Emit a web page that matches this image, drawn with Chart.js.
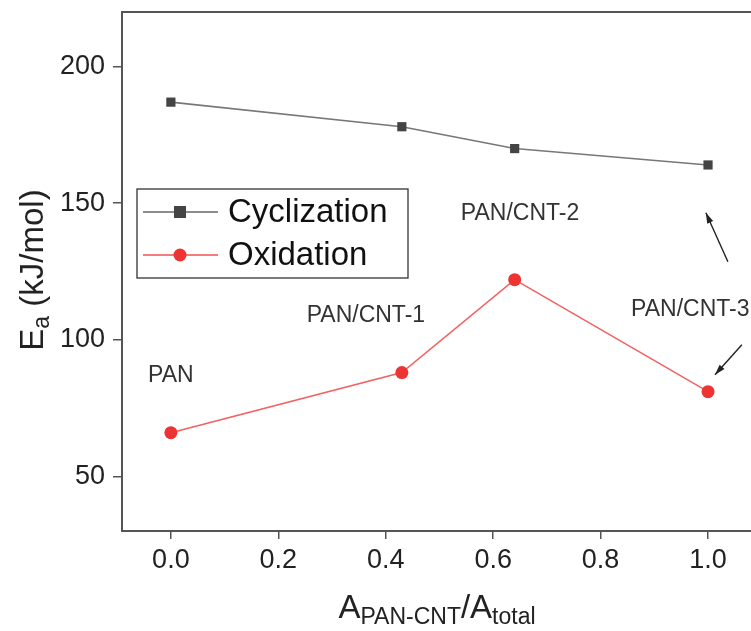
<!DOCTYPE html>
<html>
<head>
<meta charset="utf-8">
<script src="https://cdn.jsdelivr.net/npm/chart.js@4/dist/chart.umd.min.js"></script>
<style>
  html, body { margin: 0; padding: 0; background: #fff; overflow: hidden; }
  #wrap { width: 751px; height: 631px; }
</style>
</head>
<body>
<div id="wrap"><canvas id="eaChart" width="751" height="631"></canvas></div>
<script>
// activation energy vs. fraction of PAN-CNT area
var ratio = [0.0, 0.43, 0.64, 1.0];
var cyclization = [187, 178, 170, 164];
var oxidation = [66, 88, 122, 81];
var xTicks = [0.0, 0.2, 0.4, 0.6, 0.8, 1.0];
var yTicks = [50, 100, 150, 200];
var sampleNames = ['PAN', 'PAN/CNT-1', 'PAN/CNT-2', 'PAN/CNT-3'];
// label anchors in data units
var sampleLabelX = [0.0, 0.363, 0.65, 0.967];
var sampleLabelY = [87, 109, 146, 111];

var FONT = '"Liberation Sans", Arial, sans-serif';

function points(xs, ys) {
    return xs.map(function (x, i) { return { x: x, y: ys[i] }; });
}

function arrow(ctx, x1, y1, x2, y2) {
    var a = Math.atan2(y2 - y1, x2 - x1);
    ctx.beginPath();
    ctx.moveTo(x1, y1);
    ctx.lineTo(x2, y2);
    ctx.stroke();
    ctx.beginPath();
    ctx.moveTo(x2, y2);
    ctx.lineTo(x2 - 11 * Math.cos(a - 0.3), y2 - 11 * Math.sin(a - 0.3));
    ctx.lineTo(x2 - 11 * Math.cos(a + 0.3), y2 - 11 * Math.sin(a + 0.3));
    ctx.closePath();
    ctx.fill();
}

// text with a subscript part, returns total width
function subText(ctx, parts, x, y, size, subSize, measureOnly) {
    var w = 0;
    parts.forEach(function (p) {
        ctx.font = (p.sub ? subSize : size) + 'px ' + FONT;
        if (!measureOnly) ctx.fillText(p.t, x + w, y + (p.sub ? size * 0.17 : 0));
        w += ctx.measureText(p.t).width;
    });
    return w;
}

var extras = {
    id: 'extras',
    afterDraw: function (chart) {
        var ctx = chart.ctx;
        var area = chart.chartArea;
        var xs = chart.scales.x, ys = chart.scales.y;
        ctx.save();

        // top frame line
        ctx.strokeStyle = '#555';
        ctx.lineWidth = 2;
        ctx.beginPath();
        ctx.moveTo(area.left - 1, area.top);
        ctx.lineTo(area.right, area.top);
        ctx.stroke();

        // sample labels
        ctx.fillStyle = '#333';
        ctx.font = '23px ' + FONT;
        ctx.textAlign = 'center';
        ctx.textBaseline = 'middle';
        sampleNames.forEach(function (n, i) {
            ctx.fillText(n, xs.getPixelForValue(sampleLabelX[i]), ys.getPixelForValue(sampleLabelY[i]));
        });

        // arrows pointing at the PAN/CNT-3 points
        ctx.strokeStyle = '#222';
        ctx.fillStyle = '#222';
        ctx.lineWidth = 1.4;
        arrow(ctx, xs.getPixelForValue(1.037), ys.getPixelForValue(128.6),
                   xs.getPixelForValue(0.996), ys.getPixelForValue(146.5));
        arrow(ctx, xs.getPixelForValue(1.063), ys.getPixelForValue(98.2),
                   xs.getPixelForValue(1.013), ys.getPixelForValue(87.2));

        // legend box
        var lx = 137, ly = 189, lw = 271, lh = 89;
        ctx.strokeStyle = '#333';
        ctx.lineWidth = 1.3;
        ctx.strokeRect(lx, ly, lw, lh);
        var rows = [
            { label: 'Cyclization', color: '#666', fill: '#444', shape: 'rect', y: ly + 23 },
            { label: 'Oxidation', color: '#f05050', fill: '#ee3333', shape: 'circle', y: ly + 66 }
        ];
        rows.forEach(function (r) {
            ctx.strokeStyle = r.color;
            ctx.lineWidth = 1.4;
            ctx.beginPath();
            ctx.moveTo(lx + 6, r.y);
            ctx.lineTo(lx + 81, r.y);
            ctx.stroke();
            ctx.fillStyle = r.fill;
            if (r.shape === 'rect') {
                ctx.fillRect(lx + 37, r.y - 6, 12, 12);
            } else {
                ctx.beginPath();
                ctx.arc(lx + 43, r.y, 6.5, 0, Math.PI * 2);
                ctx.fill();
            }
            ctx.fillStyle = '#111';
            ctx.font = '33px ' + FONT;
            ctx.textAlign = 'left';
            ctx.textBaseline = 'middle';
            ctx.fillText(r.label, lx + 91, r.y + 1);
        });

        // axis titles with subscripts
        ctx.fillStyle = '#222';
        ctx.textAlign = 'left';
        ctx.textBaseline = 'alphabetic';
        var xt = [{ t: 'A' }, { t: 'PAN-CNT', sub: true }, { t: '/A' }, { t: 'total', sub: true }];
        var w = subText(ctx, xt, 0, 0, 33, 23, true);
        subText(ctx, xt, 437 - w / 2, 618, 33, 23, false);

        ctx.save();
        ctx.translate(43, 270);
        ctx.rotate(-Math.PI / 2);
        var yt = [{ t: 'E' }, { t: 'a', sub: true }, { t: ' (kJ/mol)' }];
        w = subText(ctx, yt, 0, 0, 33, 23, true);
        subText(ctx, yt, -w / 2, 0, 33, 23, false);
        ctx.restore();

        ctx.restore();
    }
};

new Chart('eaChart', {
    type: 'line',
    data: {
        datasets: [{
            label: 'Cyclization',
            data: points(ratio, cyclization),
            borderColor: '#777',
            borderWidth: 1.6,
            pointStyle: 'rect',
            pointRadius: 6.5,
            pointBackgroundColor: '#444',
            pointBorderColor: '#444',
            pointBorderWidth: 0
        }, {
            label: 'Oxidation',
            data: points(ratio, oxidation),
            borderColor: '#f26060',
            borderWidth: 1.5,
            pointStyle: 'circle',
            pointRadius: 6.5,
            pointBackgroundColor: '#ee3333',
            pointBorderColor: '#ee3333',
            pointBorderWidth: 0
        }]
    },
    options: {
        responsive: false,
        animation: false,
        layout: { autoPadding: false, padding: { top: 12, right: 0, left: 0, bottom: 0 } },
        plugins: {
            legend: { display: false },
            tooltip: { enabled: false }
        },
        scales: {
            x: {
                type: 'linear',
                min: -0.091,
                max: 1.08,
                afterBuildTicks: function (s) { s.ticks = xTicks.map(function (v) { return { value: v }; }); },
                afterFit: function (s) {
                    s.height = 100;
                    s.paddingLeft = 0;
                    s.paddingRight = 0;
                },
                border: { color: '#555', width: 2 },
                grid: { drawOnChartArea: false, tickLength: 8, color: '#555', lineWidth: 1.5 },
                ticks: {
                    color: '#222',
                    padding: 5,
                    font: { family: FONT, size: 27 },
                    callback: function (v) { return v.toFixed(1); }
                }
            },
            y: {
                min: 30,
                max: 220,
                afterBuildTicks: function (s) { s.ticks = yTicks.map(function (v) { return { value: v }; }); },
                afterFit: function (s) {
                    s.width = 122;
                    s.paddingTop = 0;
                    s.paddingBottom = 0;
                },
                border: { color: '#555', width: 2 },
                grid: { drawOnChartArea: false, tickLength: 9, color: '#555', lineWidth: 1.5 },
                ticks: {
                    color: '#222',
                    padding: 8,
                    font: { family: FONT, size: 27 }
                }
            }
        }
    },
    plugins: [extras]
});
</script>
</body>
</html>
